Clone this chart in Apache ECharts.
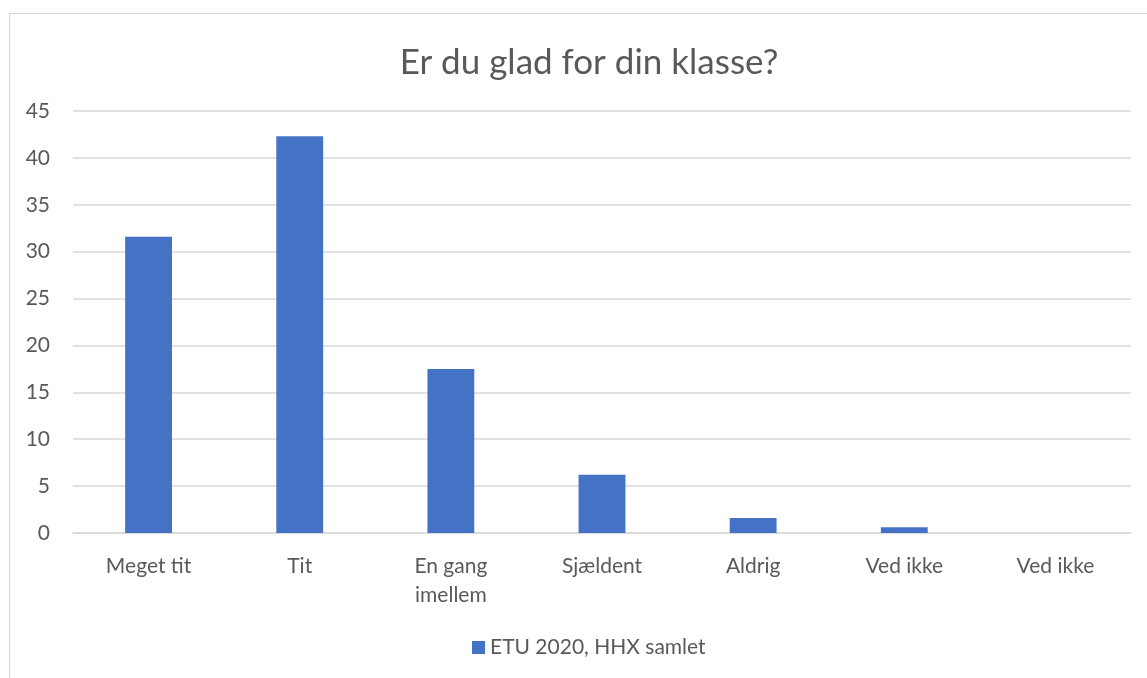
<!DOCTYPE html>
<html><head><meta charset="utf-8">
<script src="https://cdn.jsdelivr.net/npm/echarts@6/dist/echarts.min.js"></script>
<style>html,body{margin:0;padding:0;background:#fff}#c{width:1147px;height:678px}
#frame{position:absolute;left:9px;top:13px;width:1160px;height:700px;border:1px solid #d9d9d9;pointer-events:none}</style>
</head><body><div id="c"></div><div id="frame"></div>
<script>
const categories = ['Meget tit', 'Tit', 'En gang\nimellem', 'Sjældent', 'Aldrig', 'Ved ikke', 'Ved ikke'];
const values = [31.6, 42.3, 17.5, 6.2, 1.6, 0.6, 0];
const seriesName = 'ETU 2020, HHX samlet';
const titleText = 'Er du glad for din klasse?';
const FONT = 'Lato, "Open Sans", sans-serif';
const chart = echarts.init(document.getElementById('c'));
chart.setOption({
  animation: false,
  title: { text: titleText, left: 584, top: 40, textAlign: 'center',
    textStyle: { fontFamily: FONT, fontSize: 35, fontWeight: 'normal', color: '#595959' } },
  grid: { left: 73, right: 16, top: 111, bottom: 145, containLabel: false },
  legend: { bottom: 15, left: 467, itemWidth: 13, itemHeight: 13, itemGap: 7,
    icon: 'rect', textStyle: { fontFamily: FONT, fontSize: 21, color: '#595959' } },
  xAxis: { type: 'category', data: categories,
    axisLine: { lineStyle: { color: '#d9d9d9', width: 1.5 } }, axisTick: { show: false },
    axisLabel: { fontFamily: FONT, fontSize: 21, color: '#595959', margin: 19, lineHeight: 29, interval: 0 } },
  yAxis: { type: 'value', min: 0, max: 45, interval: 5,
    axisLine: { show: false }, axisTick: { show: false },
    splitLine: { lineStyle: { color: '#d9d9d9', width: 1.5 } },
    axisLabel: { fontFamily: FONT, fontSize: 21, color: '#595959', margin: 23 } },
  series: [{ name: seriesName, type: 'bar', data: values, barWidth: '31%',
    itemStyle: { color: '#4472C4' } }]
});
</script></body></html>
